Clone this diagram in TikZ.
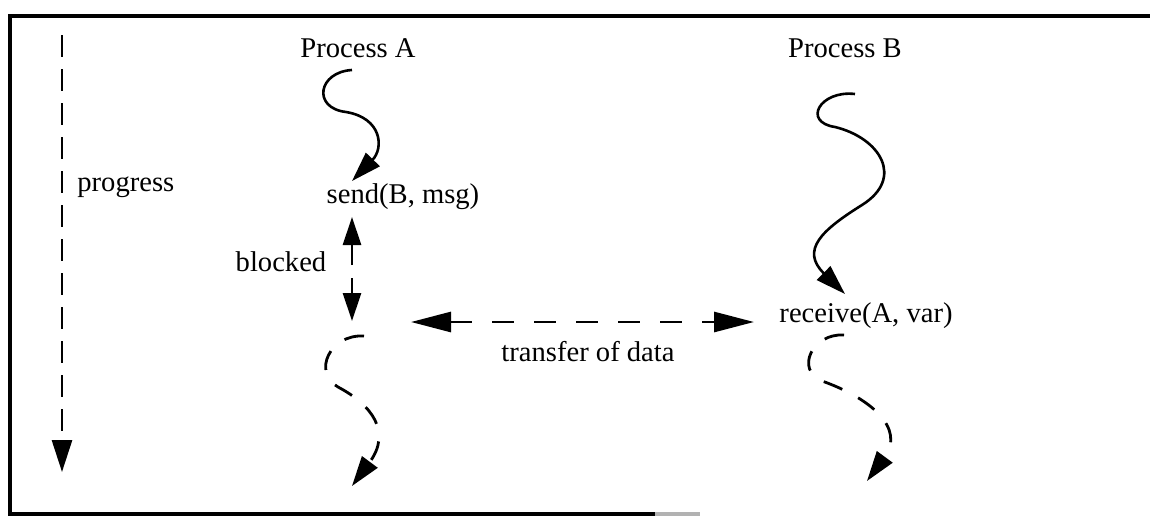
\documentclass[tikz,border=0pt]{standalone}
\usepackage{fontspec}
\setmainfont{Liberation Serif}
\usetikzlibrary{arrows.meta}
\begin{document}
\begin{tikzpicture}[x=0.5pt,y=-0.5pt,
  lbl/.style={inner sep=0pt,font=\fontsize{14.3pt}{16pt}\selectfont},
  solidflow/.style={line width=1.3pt,-{Triangle[length=15pt,width=9.5pt]}},
  dashflow/.style={line width=1.4pt,dash pattern=on 10pt off 9pt,-{Triangle[length=15pt,width=9.5pt]}},
  bigtip/.style={-{Triangle[length=14pt,width=9pt]}},
  frameline/.style={line width=1.8pt}]
\useasboundingbox (0,0) rectangle (1150,520);
% frame
\draw[frameline] (1150,16) -- (10,16) -- (10,514) -- (655,514);
\draw[frameline,gray!60] (655,514) -- (700,514);

% labels
\node[lbl] (pa) at (358,48) {Process A};
\node[lbl] (pb) at (845,48) {Process B};
\node[lbl] (send) at (403,197) {send(B, msg)};
\node[lbl] (recv) at (866,316) {receive(A, var)};
\node[lbl,anchor=west] (prog) at (77,187) {progress};
\node[lbl] (blocked) at (281,262) {blocked};
\node[lbl] (transfer) at (588,352) {transfer of data};

% coordinates
\coordinate (progtop) at (62,35);
\coordinate (progend) at (62,472);
\coordinate (astart) at (352,70);
\coordinate (aend) at (352,181);
\coordinate (bstart) at (855,94);
\coordinate (bend) at (845,294);
\coordinate (blkup) at (352,265);
\coordinate (blktip) at (352,217);
\coordinate (blkdown) at (352,278);
\coordinate (blkend) at (352,321);
\coordinate (tleft) at (411,322);
\coordinate (tright) at (754,322);
\coordinate (adstart) at (364,336);
\coordinate (adend) at (352,486);
\coordinate (bdstart) at (844,335);
\coordinate (bdend) at (867,481);

% progress arrow
\draw[line width=1.4pt,dash pattern=on 11pt off 6pt,-{Triangle[length=16pt,width=10pt]}] (progtop) -- (progend);

% process A thread
\draw[solidflow] (astart) .. controls (318,72) and (312,108) .. (346,112)
  .. controls (382,118) and (384,148) .. (aend);
% blocked arrows
\draw[line width=1.4pt,bigtip] (blkup) -- (blktip);
\draw[line width=1.4pt,bigtip] (blkdown) -- (blkend);
% transfer arrow
\draw[line width=1.4pt,dash pattern=on 11pt off 10pt,{Triangle[length=20pt,width=10pt]}-{Triangle[length=20pt,width=10pt]}] (tleft) -- (tright);
% process A continuation
\draw[dashflow] (adstart) .. controls (330,334) and (312,372) .. (338,387)
  .. controls (372,405) and (392,432) .. (adend);

% process B thread
\draw[solidflow] (bstart) .. controls (820,90) and (802,122) .. (835,127)
  .. controls (880,138) and (905,178) .. (862,205)
  .. controls (822,230) and (800,250) .. (bend);
% process B continuation
\draw[dashflow] (bdstart) .. controls (812,333) and (795,370) .. (822,381)
  .. controls (870,398) and (906,428) .. (bdend);
\end{tikzpicture}
\end{document}
